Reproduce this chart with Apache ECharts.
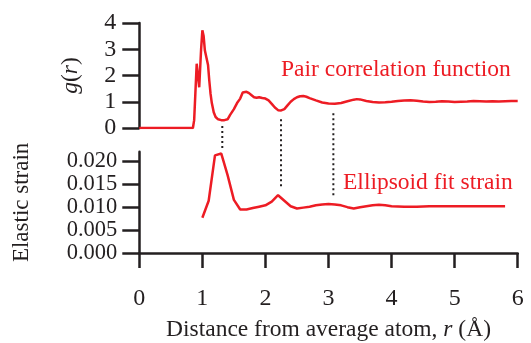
<!DOCTYPE html>
<html>
<head>
<meta charset="utf-8">
<script src="https://cdn.jsdelivr.net/npm/echarts@6/dist/echarts.min.js"></script>
<style>html,body{margin:0;padding:0;background:#fff;}#c{width:531px;height:343px;}</style>
</head>
<body>
<div id="c"></div>
<script>
// Pair correlation function g(r): [r (Å), g]
var pairCorrelation = [
  [0,0],[0.85,0],[0.87,0.3],[0.91,2.45],[0.93,2.0],[0.95,1.55],[0.98,3.0],[1.0,3.72],[1.02,3.5],
  [1.04,2.95],[1.07,2.9],[1.09,2.4],[1.11,1.8],[1.13,1.3],[1.15,0.95],[1.18,0.6],[1.21,0.42],
  [1.25,0.33],[1.3,0.3],[1.35,0.3],[1.4,0.33],[1.44,0.5],[1.5,0.72],[1.55,0.95],[1.6,1.12],
  [1.64,1.35],[1.67,1.42],[1.7,1.38],[1.74,1.33],[1.78,1.25],[1.82,1.17],[1.86,1.15],[1.9,1.17],
  [1.95,1.14],[2.0,1.12],[2.05,1.05],[2.1,0.92],[2.15,0.78],[2.2,0.68],[2.25,0.67],[2.3,0.72],
  [2.35,0.86],[2.4,1.0],[2.45,1.1],[2.5,1.17],[2.55,1.21],[2.6,1.22],[2.65,1.19],[2.7,1.14],
  [2.8,1.05],[2.9,0.97],[3.0,0.93],[3.1,0.92],[3.2,0.95],[3.3,1.02],[3.4,1.08],[3.45,1.1],
  [3.5,1.09],[3.6,1.03],[3.7,0.99],[3.8,0.97],[3.9,0.98],[4.0,1.0],[4.1,1.03],[4.2,1.05],
  [4.3,1.06],[4.4,1.04],[4.5,1.01],[4.6,0.99],[4.7,1.0],[4.8,1.02],[4.9,1.01],[5.0,0.99],
  [5.1,1.0],[5.2,1.01],[5.3,1.03],[5.4,1.02],[5.5,1.01],[5.6,1.02],[5.7,1.01],[5.8,1.02],
  [5.9,1.03],[6.0,1.03]
];
// Ellipsoid fit strain: [r (Å), strain]
var ellipsoidStrain = [
  [1.0,0.0077],[1.1,0.0114],[1.2,0.0213],[1.3,0.0217],[1.4,0.0170],[1.5,0.0116],[1.6,0.0095],
  [1.7,0.0095],[1.8,0.0098],[1.9,0.0101],[2.0,0.0104],[2.1,0.0112],[2.2,0.0126],[2.3,0.0114],
  [2.4,0.0102],[2.5,0.0097],[2.6,0.0099],[2.7,0.0101],[2.8,0.0104],[2.9,0.0106],[3.0,0.0107],
  [3.1,0.0106],[3.2,0.0104],[3.3,0.0100],[3.4,0.0097],[3.5,0.0100],[3.6,0.0102],[3.7,0.0104],
  [3.8,0.0105],[3.9,0.0104],[4.0,0.0102],[4.2,0.0101],[4.4,0.0101],[4.6,0.0102],[4.8,0.0102],
  [5.0,0.0102],[5.2,0.0102],[5.4,0.0102],[5.6,0.0102],[5.8,0.0102]
];
// Dotted guide lines: [r, g at top end, strain at bottom end]
var guideLines = [[1.316,0.08,0.0226],[2.247,0.33,0.0142],[3.077,0.56,0.0121]];
var xTicks = [0,1,2,3,4,5,6];
var gTicks = [0,1,2,3,4];
var strainTicks = [0,0.005,0.010,0.015,0.020];

var RED = '#ed1c24', INK = '#231f20', FONT = '"Liberation Serif", "Times New Roman", serif';
var chart = echarts.init(document.getElementById('c'), null, {renderer:'canvas'});
var tickStyle = {color:INK,width:2.5};
var option = {
  animation:false,
  textStyle:{fontFamily:FONT},
  grid:[
    {left:139.3, top:23, width:378.4, height:105},
    {left:139.3, top:151.7, width:378.4, height:105}
  ],
  xAxis:[
    {gridIndex:0, type:'value', min:0, max:6, interval:1, show:false},
    {gridIndex:1, type:'value', min:0, max:6, interval:1, offset:5,
     axisLine:{show:true, lineStyle:tickStyle},
     axisTick:{show:true, length:15, lineStyle:tickStyle},
     splitLine:{show:false},
     axisLabel:{color:INK, fontSize:24, fontFamily:FONT, margin:29,
       showMinLabel:true, showMaxLabel:true},
     name:'Distance from average atom, {i|r} (Å)', nameLocation:'middle', nameGap:60,
     nameTextStyle:{color:INK, fontSize:23.5, fontFamily:FONT,
       rich:{i:{fontStyle:'italic', fontSize:23.5, fontFamily:FONT, color:INK}}}}
  ],
  yAxis:[
    {gridIndex:0, type:'value', min:0, max:4, interval:1,
     axisLine:{show:true, lineStyle:tickStyle},
     axisTick:{show:true, length:17, lineStyle:tickStyle},
     splitLine:{show:false},
     axisLabel:{color:INK, fontSize:24, fontFamily:FONT, margin:23,
       showMinLabel:true, showMaxLabel:true},
     name:'{i|g}({i|r})', nameLocation:'middle', nameGap:56, nameRotate:90,
     nameTextStyle:{color:INK, fontSize:23.5, fontFamily:FONT,
       rich:{i:{fontStyle:'italic', fontSize:23.5, fontFamily:FONT, color:INK}}}},
    {gridIndex:1, type:'value', min:0, max:0.0221,
     axisLine:{show:true, lineStyle:tickStyle},
     axisTick:{show:true, length:17, customValues:strainTicks, lineStyle:tickStyle},
     splitLine:{show:false},
     axisLabel:{color:INK, fontSize:22.5, fontFamily:FONT, margin:22,
       customValues:strainTicks,
       formatter:function(v){return v.toFixed(3);}},
     name:'Elastic strain', nameLocation:'middle', nameGap:106, nameRotate:90,
     nameTextStyle:{color:INK, fontSize:23, fontFamily:FONT}}
  ],
  graphic:[
    {type:'text', left:281, top:58, style:{text:'Pair correlation function', fill:RED, font:'23.5px '+FONT}},
    {type:'text', left:343, top:171, style:{text:'Ellipsoid fit strain', fill:RED, font:'23.5px '+FONT}}
  ],
  series:[
    {type:'line', xAxisIndex:0, yAxisIndex:0, data:pairCorrelation, showSymbol:false, symbol:'none',
     lineStyle:{color:RED, width:2.5}, z:3},
    {type:'line', xAxisIndex:1, yAxisIndex:1, data:ellipsoidStrain, showSymbol:false, symbol:'none',
     lineStyle:{color:RED, width:2.5}, z:3},
    {type:'custom', xAxisIndex:0, yAxisIndex:0, data:guideLines, clip:false, z:2,
     renderItem:function(params, api){
       var r = api.value(0);
       var p1 = api.coord([r, api.value(1)]);
       var p2 = chart.convertToPixel({xAxisIndex:1, yAxisIndex:1}, [r, api.value(2)]);
       if(!p2) return null;
       return {type:'line', shape:{x1:p1[0], y1:p1[1], x2:p1[0], y2:p2[1]},
               style:{stroke:INK, lineWidth:2, lineDash:[2,3]}};
     }}
  ]
};
chart.setOption(option);
</script>
</body>
</html>
